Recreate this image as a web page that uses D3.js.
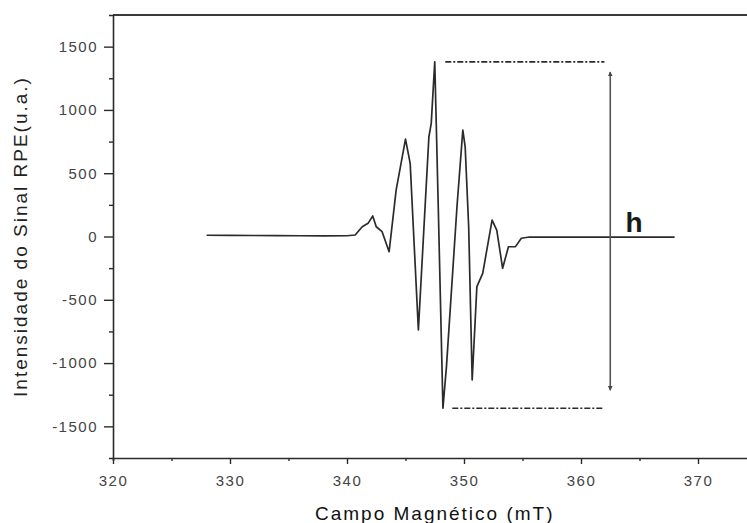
<!DOCTYPE html>
<html>
<head>
<meta charset="utf-8">
<script src="https://cdn.jsdelivr.net/npm/d3@7"></script>
<style>
  body { margin: 0; background: #fff; }
  svg { display: block; font-family: "Liberation Sans", Arial, sans-serif; }
</style>
</head>
<body>
<svg id="vis" width="747" height="523"></svg>
<script>
// EPR spectrum: field (mT) vs signal intensity (a.u.)
const fieldMT = [328.0, 330.0, 332.0, 334.0, 336.0, 338.0, 340.0, 340.7, 341.3, 341.8,
  342.2, 342.5, 343.0, 343.6, 344.2, 345.0, 345.4, 346.1, 347.0, 347.2,
  347.5, 347.8, 348.2, 348.5, 349.4, 349.9, 350.1, 350.4, 350.7, 351.1,
  351.6, 352.4, 352.8, 353.3, 353.8, 354.4, 354.9, 355.6, 358.0, 362.0, 365.0, 368.0];
const signal = [10, 9, 8, 7, 6, 5, 6, 12, 77, 104,
  162, 77, 38, -120, 367, 770, 578, -738, 788, 894,
  1380, 235, -1357, -1028, 235, 841, 709, 77, -1133, -396,
  -291, 130, 51, -251, -81, -80, -14, -4, -5, -5, -5, -5];

const xTicks = [320, 330, 340, 350, 360, 370];
const xMinorTicks = [325, 335, 345, 355, 365, 375];
const yTicks = [-1500, -1000, -500, 0, 500, 1000, 1500];
const yMinorTicks = [-1250, -750, -250, 250, 750, 1250];

// peak-to-peak marker: dashed limits, arrow and label
const hLineTop = [348.4, 362.0];
const hLineBottom = [349.0, 361.9];
const hArrowX = 362.5;
const hArrowEnds = [1300, -1215];
const hLabelPos = [363.8, 36];

const svg = d3.select("#vis");
const plotLeft = 113, plotTop = 15, plotBottom = 458;

const x = d3.scaleLinear().domain([320, 375]).range([plotLeft, plotLeft + 55 * 11.7]);
const y = d3.scaleLinear().domain([-1750, 1750]).range([plotBottom, plotTop]);

const ink = "#2b2b2b";
const plainNum = d => String(d); // keeps the ASCII hyphen on negatives

// frame
svg.append("line")
  .attr("x1", plotLeft).attr("x2", x(375)).attr("y1", plotTop).attr("y2", plotTop)
  .attr("stroke", "#3a3a3a").attr("stroke-width", 2);

// axes
const styleAxis = g => {
  g.select(".domain").attr("stroke", ink).attr("stroke-width", 1.6);
  g.selectAll(".tick line").attr("stroke", ink).attr("stroke-width", 1.4);
  g.selectAll("text")
    .attr("fill", "#444")
    .attr("font-size", 15)
    .attr("letter-spacing", 1.5);
};

svg.append("g")
  .attr("transform", `translate(0,${plotBottom})`)
  .call(d3.axisBottom(x).tickValues(xMinorTicks).tickSize(3).tickFormat(""))
  .call(styleAxis);
svg.append("g")
  .attr("transform", `translate(0,${plotBottom})`)
  .call(d3.axisBottom(x).tickValues(xTicks).tickSize(6).tickPadding(11).tickFormat(plainNum))
  .call(styleAxis)
  .call(g => g.select(".domain").remove());

svg.append("g")
  .attr("transform", `translate(${plotLeft},0)`)
  .call(d3.axisLeft(y).tickValues(yMinorTicks).tickSize(4).tickFormat(""))
  .call(styleAxis);
svg.append("g")
  .attr("transform", `translate(${plotLeft},0)`)
  .call(d3.axisLeft(y).tickValues(yTicks).tickSize(9).tickPadding(6).tickFormat(plainNum))
  .call(styleAxis)
  .call(g => g.select(".domain").remove());

// axis titles
svg.append("text")
  .attr("x", (x(320) + x(375)) / 2)
  .attr("y", 520)
  .attr("text-anchor", "middle")
  .attr("font-size", 19)
  .attr("letter-spacing", 2)
  .attr("fill", "#111")
  .text("Campo Magnético (mT)");

svg.append("text")
  .attr("transform", `translate(27,${(plotTop + plotBottom) / 2}) rotate(-90)`)
  .attr("text-anchor", "middle")
  .attr("font-size", 19)
  .attr("letter-spacing", 2)
  .attr("fill", "#222")
  .text("Intensidade do Sinal RPE(u.a.)");

// spectrum
const pts = fieldMT.map((f, i) => [f, signal[i]]);
svg.append("path")
  .datum(pts)
  .attr("fill", "none")
  .attr("stroke", ink)
  .attr("stroke-width", 1.7)
  .attr("stroke-linejoin", "round")
  .attr("d", d3.line().x(d => x(d[0])).y(d => y(d[1])));

// h marker
const maxSig = d3.max(signal), minSig = d3.min(signal);
svg.append("line")
  .attr("x1", x(hLineTop[0])).attr("x2", x(hLineTop[1]))
  .attr("y1", y(maxSig)).attr("y2", y(maxSig))
  .attr("stroke", ink).attr("stroke-width", 1.6)
  .attr("stroke-dasharray", "6,2,2,2");
svg.append("line")
  .attr("x1", x(hLineBottom[0])).attr("x2", x(hLineBottom[1]))
  .attr("y1", y(minSig)).attr("y2", y(minSig))
  .attr("stroke", ink).attr("stroke-width", 1.6)
  .attr("stroke-dasharray", "6,2,2,2");

svg.append("defs").append("marker")
  .attr("id", "head")
  .attr("viewBox", "0 0 10 10")
  .attr("refX", 9).attr("refY", 5)
  .attr("markerWidth", 5).attr("markerHeight", 7)
  .attr("orient", "auto-start-reverse")
  .attr("markerUnits", "userSpaceOnUse")
  .append("path")
  .attr("d", "M0,0 L10,5 L0,10 Z")
  .attr("fill", "#444");

svg.append("line")
  .attr("x1", x(hArrowX)).attr("x2", x(hArrowX))
  .attr("y1", y(hArrowEnds[0])).attr("y2", y(hArrowEnds[1]))
  .attr("stroke", "#555").attr("stroke-width", 1.6)
  .attr("marker-start", "url(#head)")
  .attr("marker-end", "url(#head)");

svg.append("text")
  .attr("x", x(hLabelPos[0]))
  .attr("y", y(hLabelPos[1]))
  .attr("font-size", 28)
  .attr("font-weight", "bold")
  .attr("fill", "#1a1a1a")
  .text("h");
</script>
</body>
</html>
